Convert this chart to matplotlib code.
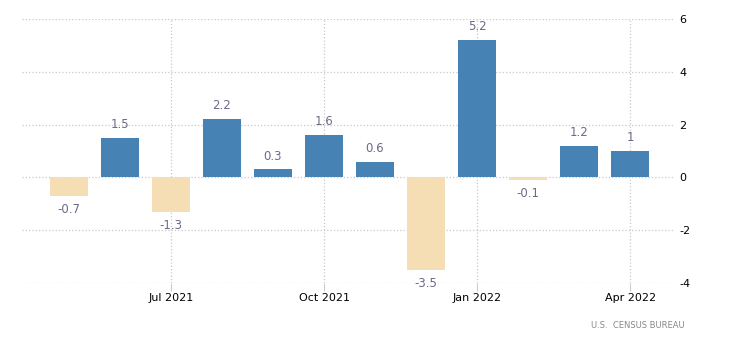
import numpy as np
import matplotlib.pyplot as plt

months = ['May 2021', 'Jun 2021', 'Jul 2021', 'Aug 2021', 'Sep 2021', 'Oct 2021',
          'Nov 2021', 'Dec 2021', 'Jan 2022', 'Feb 2022', 'Mar 2022', 'Apr 2022']
values = [-0.7, 1.5, -1.3, 2.2, 0.3, 1.6, 0.6, -3.5, 5.2, -0.1, 1.2, 1.0]
tick_labels = ['Jul 2021', 'Oct 2021', 'Jan 2022', 'Apr 2022']
yticks = [-4, -2, 0, 2, 4, 6]

x = np.arange(len(months))
colors = ['#4682b4' if v >= 0 else '#f5deb3' for v in values]

fig = plt.figure(figsize=(7.3, 3.4), dpi=100)
ax = fig.add_axes([22 / 730, 1 - 283 / 340, (675 - 22) / 730, (283 - 19) / 340])

ax.bar(x, values, width=0.75, color=colors, zorder=2)

for xi, v in zip(x, values):
    lbl = ('%g' % v)
    if v >= 0:
        ax.annotate(lbl, (xi, v), xytext=(0, 5), textcoords='offset points',
                    ha='center', va='bottom', fontsize=8.5, color='#6c6a88')
    else:
        ax.annotate(lbl, (xi, v), xytext=(0, -5), textcoords='offset points',
                    ha='center', va='top', fontsize=8.5, color='#6c6a88')

ax.set_xlim(-0.92, 11.88)
ax.set_ylim(-4, 6)
ax.set_yticks(yticks)
ax.set_yticklabels([str(t) for t in yticks])
ax.set_xticks([months.index(m) for m in tick_labels])
ax.set_xticklabels(tick_labels)

ax.yaxis.tick_right()
ax.tick_params(axis='y', length=0, pad=3, labelsize=8, labelcolor='black')
ax.tick_params(axis='x', length=6, width=0.8, color='#cccccc', pad=1,
               labelsize=8, labelcolor='black')

ax.grid(True, linestyle=':', color='#c8c8c8', linewidth=0.9, zorder=0)
ax.set_axisbelow(True)
for s in ax.spines.values():
    s.set_visible(False)

fig.text(685 / 730, 1 - 325 / 340, 'U.S.  CENSUS BUREAU', ha='right', va='center',
         fontsize=6, color='#888888')

fig.savefig('out.png', dpi=100)
